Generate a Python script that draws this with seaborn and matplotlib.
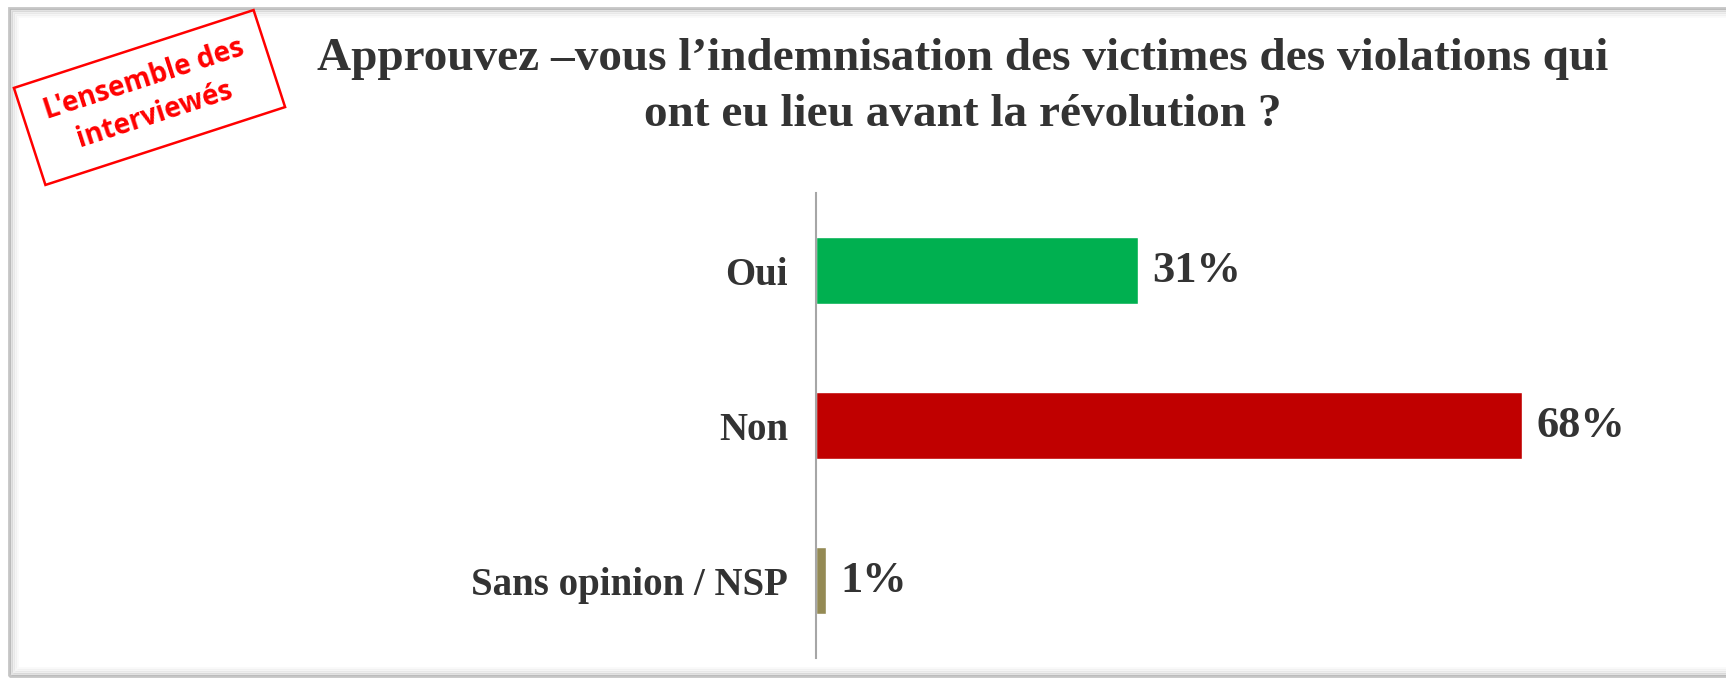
import numpy as np
import pandas as pd
import matplotlib.pyplot as plt
import seaborn as sns
from matplotlib.patches import Rectangle
from matplotlib.transforms import Affine2D

# Data
categories = ['Oui', 'Non', 'Sans opinion / NSP']
values = [31, 68, 1]
labels = ['31%', '68%', '1%']
colors = ['#00B050', '#C00000', '#948A54']

title = "Approuvez \u2013vous l\u2019indemnisation des victimes des violations qui\nont eu lieu avant la r\u00e9volution ?"
stamp = "L'ensemble des\ninterview\u00e9s"

sns.set_theme(style='white')
plt.rcParams['font.family'] = ['Liberation Serif', 'DejaVu Serif']
txt = '#333333'

df = pd.DataFrame({'cat': categories, 'val': values})

fig = plt.figure(figsize=(17.26, 6.8), dpi=100)
ax = fig.add_axes([816 / 1726, 22 / 680, 835 / 1726, 465 / 680])
sns.barplot(data=df, x='val', y='cat', hue='cat', palette=colors, legend=False,
            orient='h', width=0.43, saturation=1, ax=ax)
ax.set_xlim(0, 80.4)
ax.set_xlabel('')
ax.set_ylabel('')
ax.set_xticks([])
for s in ['top', 'right', 'bottom']:
    ax.spines[s].set_visible(False)
ax.spines['left'].set_color('#A6A6A6')
ax.spines['left'].set_linewidth(1.5)
ax.tick_params(axis='y', length=0, pad=20)
for t in ax.get_yticklabels():
    t.set_fontsize(28)
    t.set_fontweight('bold')
    t.set_color(txt)

for bars, lab in zip(ax.containers, labels):
    ax.bar_label(bars, labels=[lab], padding=10, fontsize=32, fontweight='bold', color=txt)

# Title
fig.text(0.558, 0.872, title, ha='center', va='center', fontsize=34,
         fontweight='bold', color=txt, linespacing=1.42)

# Frame with soft shadow
for i, a in enumerate([0.45, 0.22, 0.12, 0.07, 0.04]):
    fig.patches.append(Rectangle((9 + i * 2, 4 + i * 2), 1800, 668 - i * 4,
                                 transform=None, fill=False,
                                 edgecolor='#7F7F7F', alpha=a, lw=2))

# Red stamp
cx, cy = 149.5, 680 - 97.5
tr = Affine2D().rotate_deg(18).translate(cx, cy)
fig.patches.append(Rectangle((-126, -51), 252, 102, transform=tr, fill=False,
                             edgecolor='#FF0000', lw=1.8))
fig.text(cx / 1726, cy / 680, stamp, ha='center', va='center', rotation=18,
         rotation_mode='anchor', fontsize=20, fontweight='bold', color='#FF0000',
         family=['Open Sans', 'DejaVu Sans'], linespacing=1.35)

fig.savefig('out.png', dpi=100)
